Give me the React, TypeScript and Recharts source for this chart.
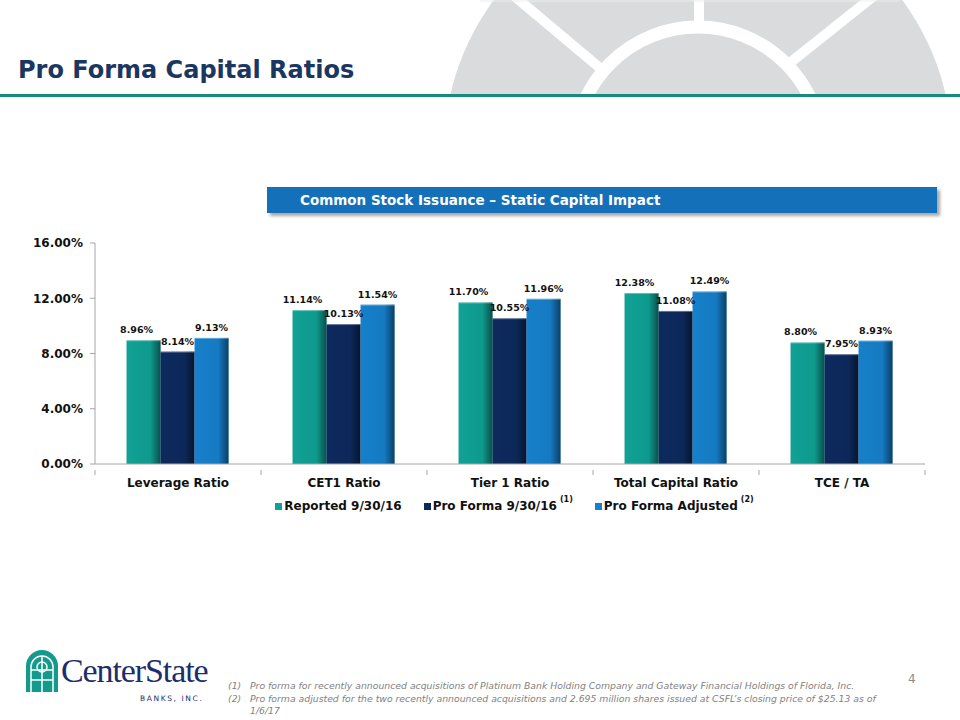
import React from "react";
import {
    BarChart,
    Bar,
    XAxis,
    YAxis,
    Legend,
    LabelList,
} from "recharts";

const categories = [
    "Leverage Ratio",
    "CET1 Ratio",
    "Tier 1 Ratio",
    "Total Capital Ratio",
    "TCE / TA",
];
const reported = [8.96, 11.14, 11.7, 12.38, 8.8];
const proForma = [8.14, 10.13, 10.55, 11.08, 7.95];
const adjusted = [9.13, 11.54, 11.96, 12.49, 8.93];

const seriesNames = ["Reported 9/30/16", "Pro Forma 9/30/16", "Pro Forma Adjusted"];
const seriesNotes = ["", "(1)", "(2)"];
const seriesColors = ["#10a195", "#0d2a5e", "#1680cb"];
const yTicks = [0, 4, 8, 12, 16];

const footnotes = [
    "Pro forma for recently announced acquisitions of Platinum Bank Holding Company and Gateway Financial Holdings of Florida, Inc.",
    "Pro forma adjusted for the two recently announced acquisitions and 2.695 million shares issued at CSFL\u2019s closing price of $25.13 as of 1/6/17",
];

const data = categories.map((name, i) => ({
    name,
    reported: reported[i],
    proForma: proForma[i],
    adjusted: adjusted[i],
}));

const FONT = "Verdana, 'DejaVu Sans', sans-serif";
const pct = (v: number) => `${v.toFixed(2)}%`;

function CategoryTick(props: any) {
    const { x, y, payload, index } = props;
    const half = payload?.offset ?? 83;
    return (
        <g>
            {index === 0 && (
                <line x1={x - half} x2={x - half} y1={y} y2={y + 5} stroke="#a6a6a6" />
            )}
            <line x1={x + half} x2={x + half} y1={y} y2={y + 5} stroke="#a6a6a6" />
            <text
                x={x}
                y={y + 21}
                dy={-4}
                textAnchor="middle"
                fontFamily={FONT}
                fontWeight="bold"
                fontSize={12}
                fill="#111"
            >
                {payload.value}
            </text>
        </g>
    );
}

function LegendContent() {
    return (
        <div
            style={{
                display: "flex",
                justifyContent: "center",
                fontFamily: FONT,
                fontWeight: "bold",
                fontSize: 12,
                color: "#111",
                paddingLeft: 104,
                paddingTop: 5,
            }}
        >
            {seriesNames.map((n, i) => (
                <span
                    key={n}
                    style={{ display: "flex", alignItems: "center", marginRight: i < 2 ? 22 : 0 }}
                >
                    <span
                        style={{
                            width: 7,
                            height: 7,
                            background: seriesColors[i],
                            marginRight: 2,
                            display: "inline-block",
                        }}
                    />
                    {n}
                    {seriesNotes[i] && (
                        <sup style={{ fontSize: 8, marginLeft: 3, position: "relative", top: -7 }}>
                            {seriesNotes[i]}
                        </sup>
                    )}
                </span>
            ))}
        </div>
    );
}

function Sunburst() {
    return (
        <svg width={960} height={96} style={{ position: "absolute", left: 0, top: 0 }}>
            <defs>
                <clipPath id="topclip">
                    <rect x={0} y={0} width={960} height={95} />
                </clipPath>
            </defs>
            <g clipPath="url(#topclip)">
                <circle cx={698} cy={151} r={254} fill="#dadbdc" />
                <circle cx={698} cy={151} r={124} fill="none" stroke="#fff" strokeWidth={13} />
                <line x1={699} y1={0} x2={699} y2={27} stroke="#fff" strokeWidth={10} />
                <line x1={513} y1={-5} x2={600} y2={68} stroke="#fff" strokeWidth={10} />
                <line x1={875} y1={-5} x2={791} y2={62} stroke="#fff" strokeWidth={10} />
                <line x1={480} y1={1} x2={900} y2={1} stroke="#eceded" strokeWidth={1} />
            </g>
        </svg>
    );
}

function Logo() {
    return (
        <div style={{ position: "absolute", left: 24, top: 650 }}>
            <svg width={36} height={42} style={{ position: "absolute", left: 0, top: 0 }}>
                <path d="M2 42 L2 16 A16 16 0 0 1 34 16 L34 42 Z" fill="#139a8d" />
                <path d="M7 42 L7 17 A11 11 0 0 1 29 17 L29 42" fill="none" stroke="#fff" strokeWidth={1.5} />
                <line x1={18} y1={6} x2={18} y2={42} stroke="#fff" strokeWidth={1.5} />
                <line x1={7} y1={20} x2={29} y2={20} stroke="#fff" strokeWidth={1.5} />
                <line x1={7} y1={30} x2={29} y2={30} stroke="#fff" strokeWidth={1.5} />
                <circle cx={18} cy={17} r={5} fill="none" stroke="#fff" strokeWidth={1.5} />
            </svg>
            <div
                style={{
                    position: "absolute",
                    left: 37,
                    top: 2,
                    fontFamily: "'Liberation Serif', 'Times New Roman', serif",
                    fontSize: 34,
                    letterSpacing: -1.1,
                    color: "#1c2e6a",
                    whiteSpace: "nowrap",
                }}
            >
                CenterState
            </div>
            <div
                style={{
                    position: "absolute",
                    left: 116,
                    top: 44,
                    fontFamily: "'DejaVu Sans', sans-serif",
                    fontSize: 7.5,
                    letterSpacing: 1.6,
                    color: "#1c2e6a",
                    whiteSpace: "nowrap",
                }}
            >
                BANKS, INC.
            </div>
        </div>
    );
}

export default function App() {
    return (
        <div
            style={{
                position: "absolute",
                left: 0,
                top: 0,
                width: 960,
                height: 720,
                overflow: "hidden",
                background: "#fff",
            }}
        >
            <Sunburst />
            <div
                style={{
                    position: "absolute",
                    left: 18,
                    top: 56,
                    fontFamily: FONT,
                    fontWeight: "bold",
                    fontSize: 24,
                    color: "#1b365f",
                    whiteSpace: "nowrap",
                }}
            >
                Pro Forma Capital Ratios
            </div>
            <div
                style={{
                    position: "absolute",
                    left: 0,
                    top: 94,
                    width: 960,
                    height: 3,
                    background: "#17897f",
                }}
            />

            <div
                style={{
                    position: "absolute",
                    left: 267,
                    top: 187,
                    width: 670,
                    height: 26,
                    background: "#1570ba",
                    boxShadow: "3px 3px 3px rgba(0,0,0,0.35)",
                    color: "#fff",
                    fontFamily: FONT,
                    fontWeight: "bold",
                    fontSize: 13.5,
                    lineHeight: "26px",
                    paddingLeft: 33,
                    boxSizing: "border-box",
                    whiteSpace: "nowrap",
                }}
            >
                Common Stock Issuance – Static Capital Impact
            </div>

            <div style={{ position: "absolute", left: 0, top: 230 }}>
                <BarChart
                    width={960}
                    height={290}
                    data={data}
                    margin={{ top: 13, right: 35, bottom: 0, left: 0 }}
                    barCategoryGap="19%"
                    barGap={0}
                >
                    <defs>
                        <linearGradient id="shade" x1="0" y1="0" x2="1" y2="0">
                            <stop offset="0%" stopColor="#000" stopOpacity={0} />
                            <stop offset="70%" stopColor="#000" stopOpacity={0.05} />
                            <stop offset="100%" stopColor="#000" stopOpacity={0.5} />
                        </linearGradient>
                    </defs>
                    <XAxis
                        dataKey="name"
                        axisLine={{ stroke: "#a6a6a6" }}
                        tickLine={false}
                        tickMargin={0}
                        height={30}
                        tick={<CategoryTick />}
                        interval={0}
                    />
                    <YAxis
                        width={95}
                        domain={[0, 16]}
                        ticks={yTicks}
                        tickFormatter={pct}
                        axisLine={{ stroke: "#a6a6a6" }}
                        tickLine={{ stroke: "#a6a6a6" }}
                        tickSize={5}
                        tickMargin={7}
                        tick={{ fontFamily: FONT, fontWeight: "bold", fontSize: 12, fill: "#111" }}
                    />
                    <Legend verticalAlign="bottom" height={26} content={<LegendContent />} />
                    {(["reported", "proForma", "adjusted"] as const).map((key, i) => (
                        <Bar
                            key={key}
                            dataKey={key}
                            name={seriesNames[i]}
                            fill={seriesColors[i]}
                            isAnimationActive={false}
                            shape={(p: any) => (
                                <g>
                                    <rect x={p.x} y={p.y} width={p.width} height={p.height} fill={seriesColors[i]} />
                                    <rect x={p.x} y={p.y} width={p.width} height={p.height} fill="url(#shade)" />
                                    <line x1={p.x} x2={p.x + p.width} y1={p.y + 0.5} y2={p.y + 0.5} stroke="#ffffff" strokeOpacity={0.35} />
                                </g>
                            )}
                        >
                            <LabelList
                                dataKey={key}
                                position="top"
                                offset={7}
                                dx={i === 0 ? -7 : 0}
                                formatter={(v: any) => pct(Number(v))}
                                style={{ fontFamily: FONT, fontWeight: "bold", fontSize: 9.5, fill: "#111" }}
                            />
                        </Bar>
                    ))}
                </BarChart>
            </div>

            <Logo />

            <div
                style={{
                    position: "absolute",
                    left: 228,
                    top: 680,
                    width: 672,
                    fontFamily: FONT,
                    fontStyle: "italic",
                    fontSize: 9.3,
                    lineHeight: "12.5px",
                    color: "#7f7f7f",
                }}
            >
                {footnotes.map((f, i) => (
                    <div key={i} style={{ display: "flex" }}>
                        <span style={{ width: 22, flexShrink: 0 }}>({i + 1})</span>
                        <span>{f}</span>
                    </div>
                ))}
            </div>
            <div
                style={{
                    position: "absolute",
                    left: 908,
                    top: 672,
                    fontFamily: FONT,
                    fontSize: 12,
                    color: "#8c8c8c",
                }}
            >
                4
            </div>
        </div>
    );
}
